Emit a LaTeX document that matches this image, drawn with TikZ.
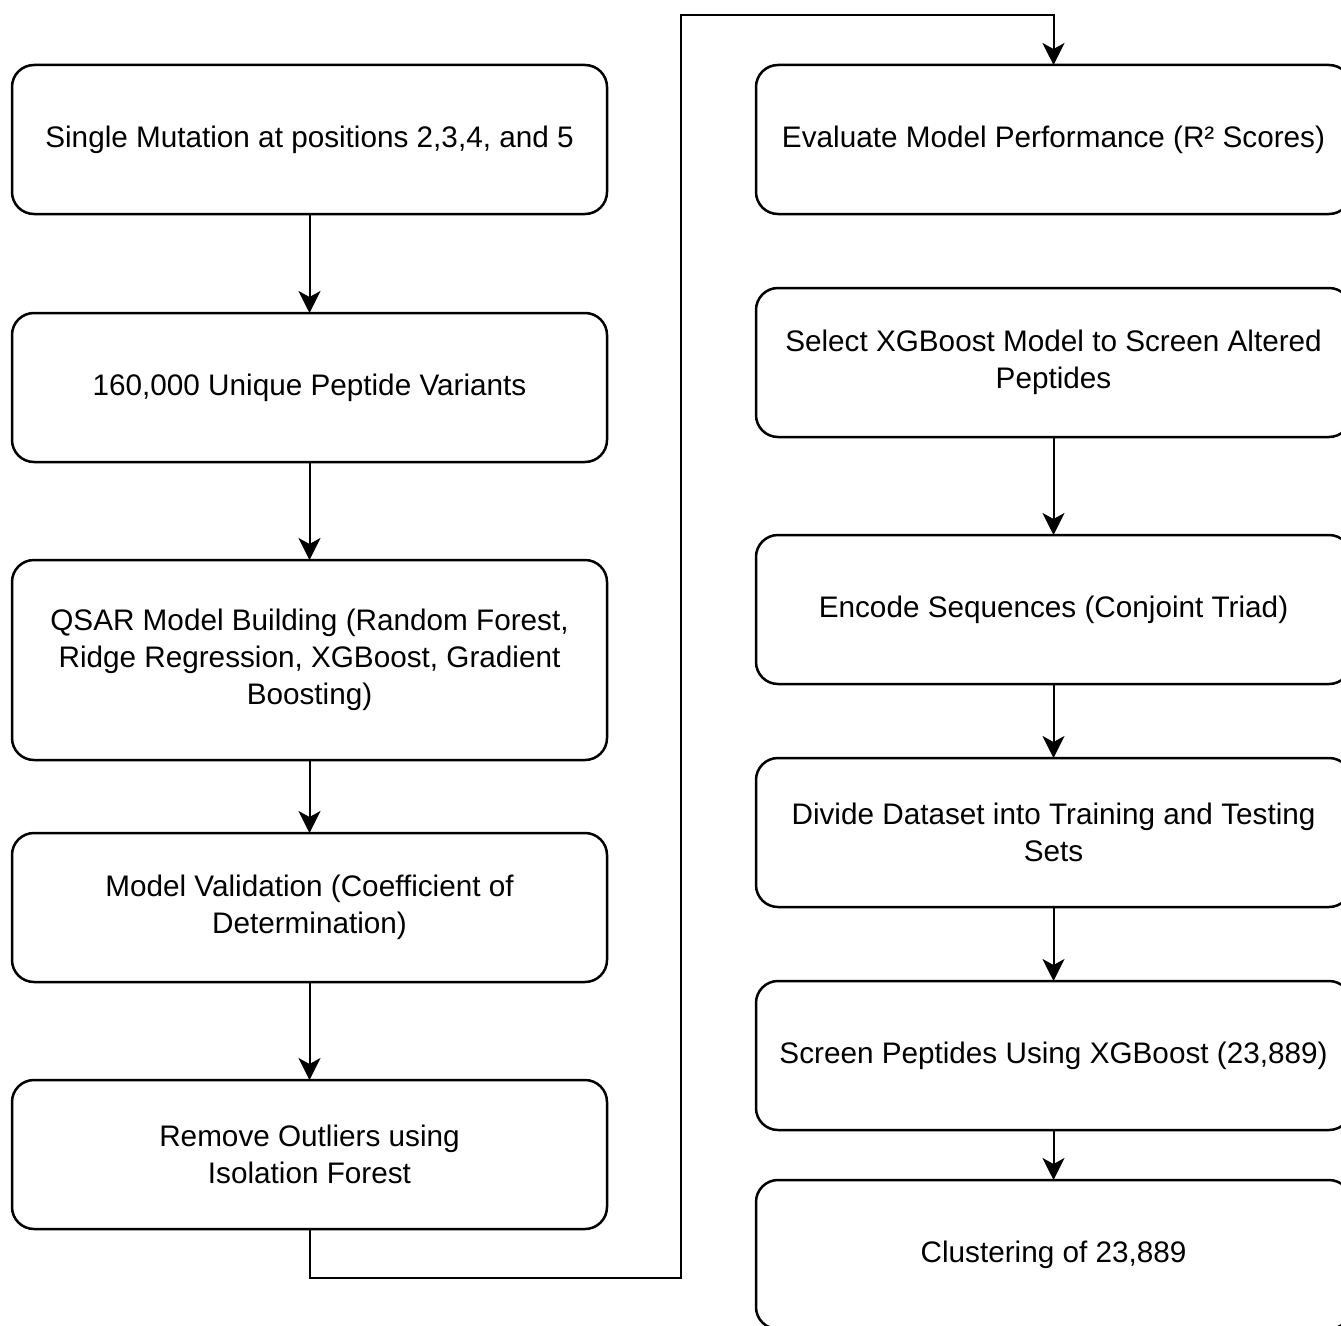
\documentclass[tikz,border=0pt]{standalone}
\usepackage{fontspec}
\setmainfont{Liberation Sans}
\usetikzlibrary{positioning, arrows.meta}

\begin{document}
\begin{tikzpicture}[every node/.style = { draw, align = center, shape = rectangle, rounded corners = 0.44cm,
      line width = 0.05cm, minimum width = 11.9cm, minimum height = 2.98cm, inner sep = 0pt, outer sep = 0pt,
      font = \fontsize{16.9}{21}\selectfont },
    arr/.style = { line width = 0.04cm, -{Stealth[length = 0.44cm, width = 0.44cm, inset = 0.12cm]} }]
  \useasboundingbox (0,0) rectangle (26.82,-26.5);
  \node (mut) at (6.19,-2.79) {Single Mutation at positions 2,3,4, and 5};
  \node [below = 1.98cm of mut] (var) {160,000 Unique Peptide Variants};
  \node [below = 1.96cm of var, minimum height = 4cm] (qsar) {QSAR Model Building (Random Forest, \\ Ridge Regression, XGBoost, Gradient \\ Boosting)};
  \node [below = 1.46cm of qsar] (valid) {Model Validation (Coefficient of \\ Determination)};
  \node [below = 1.96cm of valid] (outl) {Remove Outliers using \\ Isolation Forest};
  \node (eval) at (21.07,-2.79) {Evaluate Model Performance (R² Scores)};
  \node [below = 1.48cm of eval] (sel) {Select XGBoost Model to Screen Altered \\ Peptides};
  \node [below = 1.96cm of sel] (enc) {Encode Sequences (Conjoint Triad)};
  \node [below = 1.48cm of enc] (div) {Divide Dataset into Training and Testing \\ Sets};
  \node [below = 1.48cm of div] (scr) {Screen Peptides Using XGBoost (23,889)};
  \node [below = 1.0cm of scr] (clu) {Clustering of 23,889};
  \coordinate (turn) at (13.62,-0.3);
  \draw [arr] (mut) -- (var);
  \draw [arr] (var) -- (qsar);
  \draw [arr] (qsar) -- (valid);
  \draw [arr] (valid) -- (outl);
  \draw [arr] (outl.south) -- ++(0,-0.98) -| (turn) -| (eval.north);
  \draw [arr] (sel) -- (enc);
  \draw [arr] (enc) -- (div);
  \draw [arr] (div) -- (scr);
  \draw [arr] (scr) -- (clu);
\end{tikzpicture}
\end{document}
